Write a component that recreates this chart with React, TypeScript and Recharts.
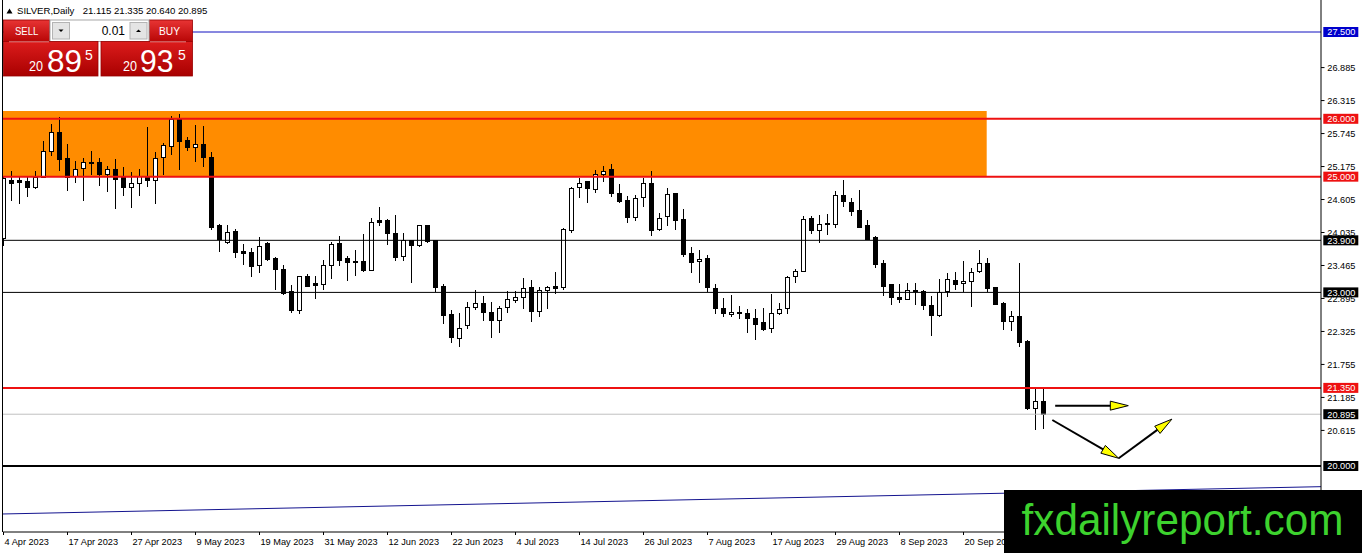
import React from 'react';
import { ComposedChart, Bar, XAxis, YAxis, ReferenceLine, ReferenceArea } from 'recharts';

// ---- OHLC data (SILVER, Daily) ----
const opens = [
  23.93, 24.94, 24.93, 24.91, 24.82, 24.99, 25.43, 25.77, 25.32, 25.01,
  25.14, 25.25, 25.24, 25.03, 25.12, 24.98, 24.82, 24.89, 24.99, 24.93,
  25.33, 25.52, 25.98, 25.63, 25.51, 25.55, 25.33, 24.15, 23.86, 24.05,
  23.70, 23.69, 23.46, 23.84, 23.58, 23.40, 23.02, 22.68, 23.27, 23.15,
  23.14, 23.47, 23.84, 23.58, 23.54, 23.54, 23.38, 24.24, 24.24, 24.02,
  23.62, 23.89, 23.81, 24.15, 23.89, 23.11, 22.61, 22.21, 22.42, 22.74,
  22.81, 22.66, 22.51, 22.74, 22.86, 22.92, 23.09, 22.67, 23.04, 23.10,
  23.09, 24.07, 24.82, 24.91, 24.78, 25.03, 25.12, 24.71, 24.58, 24.30,
  24.64, 24.89, 24.08, 24.31, 24.71, 24.26, 23.68, 23.54, 23.59, 23.07,
  22.73, 22.62, 22.66, 22.64, 22.55, 22.48, 22.38, 22.63, 22.73, 23.27,
  23.36, 24.28, 24.07, 24.17, 24.18, 24.67, 24.56, 24.41, 24.15, 23.95,
  23.50, 23.13, 22.92, 22.88, 23.04, 23.02, 22.78, 22.60, 23.01, 23.21,
  23.16, 23.19, 23.36, 23.50, 23.09, 22.80, 22.50, 22.59, 22.16, 20.99,
  21.115,
];
const highs = [
  25.00, 25.10, 25.00, 25.00, 25.10, 25.62, 25.91, 26.03, 25.56, 25.27,
  25.33, 25.45, 25.33, 25.18, 25.31, 25.17, 25.08, 25.13, 25.85, 25.42,
  25.58, 26.04, 26.08, 25.68, 25.89, 25.88, 25.42, 24.18, 24.17, 24.09,
  23.84, 23.76, 23.95, 23.87, 23.62, 23.47, 23.12, 23.29, 23.31, 23.28,
  23.56, 23.87, 23.97, 23.63, 23.73, 24.01, 24.29, 24.47, 24.27, 24.34,
  24.03, 23.90, 24.17, 24.17, 23.90, 23.15, 22.70, 22.64, 22.84, 23.04,
  22.93, 22.83, 22.77, 23.02, 23.02, 23.25, 23.21, 23.10, 23.11, 23.35,
  24.11, 24.83, 24.97, 24.92, 25.12, 25.18, 25.22, 24.87, 24.67, 24.68,
  24.97, 25.09, 24.38, 24.80, 24.72, 24.44, 23.78, 23.74, 23.65, 23.15,
  22.90, 22.96, 22.77, 22.71, 22.71, 22.73, 22.97, 22.82, 23.28, 23.40,
  24.32, 24.32, 24.34, 24.36, 24.76, 24.95, 24.63, 24.77, 24.25, 23.97,
  23.56, 23.15, 23.14, 23.17, 23.16, 23.05, 22.93, 23.24, 23.34, 23.36,
  23.55, 23.43, 23.73, 23.59, 23.10, 22.84, 22.68, 23.51, 22.17, 21.35,
  21.335,
];
const lows = [
  23.80, 24.58, 24.52, 24.65, 24.78, 24.99, 25.35, 25.10, 24.76, 24.89,
  24.58, 25.03, 24.84, 24.74, 24.44, 24.67, 24.46, 24.67, 24.83, 24.53,
  25.03, 25.37, 25.12, 25.45, 25.26, 25.17, 24.08, 23.69, 23.83, 23.59,
  23.47, 23.27, 23.34, 23.55, 23.04, 22.96, 22.64, 22.63, 23.09, 22.88,
  23.05, 23.23, 23.46, 23.19, 23.29, 23.35, 23.38, 24.14, 23.82, 23.55,
  23.55, 23.17, 23.78, 23.85, 23.01, 22.45, 22.13, 22.06, 22.36, 22.70,
  22.51, 22.22, 22.29, 22.65, 22.82, 22.72, 22.48, 22.57, 22.71, 22.97,
  23.05, 24.03, 24.63, 24.55, 24.71, 24.90, 24.65, 24.54, 24.20, 24.23,
  24.47, 23.97, 24.06, 24.14, 24.07, 23.61, 23.34, 23.16, 23.01, 22.62,
  22.58, 22.58, 22.54, 22.30, 22.18, 22.34, 22.29, 22.61, 22.63, 23.16,
  23.36, 24.01, 23.86, 23.99, 24.12, 24.48, 24.32, 24.11, 23.91, 23.43,
  22.94, 22.79, 22.81, 22.87, 22.78, 22.70, 22.25, 22.57, 22.92, 23.05,
  23.01, 22.75, 23.33, 23.01, 22.78, 22.35, 22.34, 22.06, 20.97, 20.62,
  20.64,
];
const closes = [
  24.97, 24.89, 24.90, 24.81, 24.99, 25.44, 25.77, 25.29, 24.99, 25.13,
  25.24, 25.22, 25.03, 25.12, 24.95, 24.82, 24.89, 25.00, 24.93, 25.32,
  25.53, 25.98, 25.60, 25.51, 25.55, 25.33, 24.13, 23.91, 24.04, 23.69,
  23.68, 23.44, 23.80, 23.56, 23.39, 22.98, 22.68, 23.27, 23.10, 23.12,
  23.47, 23.83, 23.55, 23.52, 23.52, 23.38, 24.21, 24.21, 24.02, 23.60,
  23.89, 23.81, 24.15, 23.88, 23.09, 22.60, 22.22, 22.38, 22.74, 22.81,
  22.65, 22.51, 22.73, 22.87, 22.92, 23.07, 22.67, 23.04, 23.09, 23.07,
  24.08, 24.80, 24.89, 24.79, 25.03, 25.09, 24.71, 24.57, 24.30, 24.63,
  24.89, 24.07, 24.28, 24.70, 24.24, 23.65, 23.51, 23.57, 23.09, 22.73,
  22.63, 22.66, 22.63, 22.55, 22.45, 22.36, 22.64, 22.71, 23.26, 23.36,
  24.26, 24.07, 24.18, 24.19, 24.67, 24.57, 24.40, 24.12, 23.92, 23.49,
  23.11, 22.92, 22.88, 23.04, 23.01, 22.78, 22.60, 23.00, 23.23, 23.13,
  23.19, 23.35, 23.50, 23.06, 22.79, 22.49, 22.59, 22.13, 20.99, 21.12,
  20.895,
];

// ---- axis ticks / labels ----
const dateTickIdx = [0, 8, 16, 24, 32, 40, 48, 56, 64, 72, 80, 88, 96, 104, 112, 120];
const dateLabels = [
  '4 Apr 2023', '17 Apr 2023', '27 Apr 2023', '9 May 2023', '19 May 2023', '31 May 2023',
  '12 Jun 2023', '22 Jun 2023', '4 Jul 2023', '14 Jul 2023', '26 Jul 2023', '7 Aug 2023',
  '17 Aug 2023', '29 Aug 2023', '8 Sep 2023', '20 Sep 2023',
];
const priceTicks = [26.885, 26.315, 25.745, 25.175, 24.605, 24.035, 23.465, 22.895, 22.325, 21.755, 21.185, 20.615];

// ---- horizontal levels ----
const levelPrices = [27.5, 26.0, 25.0, 23.9, 23.0, 21.35, 20.895, 20.0];
const levelLabelBg = ['#0000cc', '#ee1111', '#ee1111', '#000000', '#000000', '#ee1111', '#000000', '#000000'];
const levelLineColor = ['#1010c0', '#ee1111', '#ee1111', '#000000', '#000000', '#ee1111', '#c0c0c0', '#000000'];
const levelLineWidth = [1, 2, 2, 1, 1, 2, 1, 2];

// ---- zone, trendline, arrows (data coordinates: bar index, price) ----
const zoneEndIdx = 122.9;
const zoneTop = 26.135;
const zoneBottom = 25.0;
const trendLine = [{ x: -0.0625, y: 19.171 }, { x: 164.6875, y: 19.643 }];
const arrowSegments = [
  [131.46, 21.043, 140.6, 21.043],
  [131.1, 20.795, 139.4, 20.133],
  [139.4, 20.133, 146.05, 20.81],
];

const bidPrice = 20.895;
const askPrice = 20.935;

const xMin = -0.0625;
const xMax = 164.6875;
const yMax = 28.053;
const yMin = 18.8595;

const rows = opens.map((o, i) => ({
  i,
  open: o,
  high: highs[i],
  low: lows[i],
  close: closes[i],
  range: [lows[i], highs[i]],
}));

const FONT = "'Liberation Sans', Arial, sans-serif";

const Candle = (props: any) => {
  const { x, y, width, height, payload } = props;
  if (x == null || y == null || !payload) return null;
  const yTop = Math.min(y, y + height);
  const yBot = Math.max(y, y + height);
  const { open, close, high, low } = payload;
  const r = high - low;
  const py = (p: number) => (r > 0 ? yTop + ((high - p) / r) * (yBot - yTop) : yTop);
  const cx = Math.floor(x + width / 2) + 0.5;
  const bull = close >= open;
  const bt = py(Math.max(open, close));
  const bb = py(Math.min(open, close));
  return (
    <g shapeRendering="crispEdges">
      <line x1={cx} x2={cx} y1={yTop} y2={yBot} stroke="#000" strokeWidth={1} />
      <rect x={cx - 2} y={bt} width={4} height={Math.max(bb - bt, 0)} fill={bull ? '#ffffff' : '#000000'} stroke="#000" strokeWidth={1} />
    </g>
  );
};

const Arrow = (props: any) => {
  const { x1, y1, x2, y2 } = props;
  if ([x1, y1, x2, y2].some((v) => v == null || isNaN(v))) return null;
  const dx = x2 - x1;
  const dy = y2 - y1;
  const len = Math.hypot(dx, dy) || 1;
  const ux = dx / len;
  const uy = dy / len;
  const hl = 18;
  const hw = 4.5;
  const bx = x2 - ux * hl;
  const by = y2 - uy * hl;
  const pts = `${x2},${y2} ${bx - uy * hw},${by + ux * hw} ${bx + uy * hw},${by - ux * hw}`;
  return (
    <g>
      <line x1={x1} y1={y1} x2={bx + ux * 2} y2={by + uy * 2} stroke="#000" strokeWidth={2} />
      <polygon points={pts} fill="#ffff00" stroke="#000" strokeWidth={1} />
    </g>
  );
};

const YTick = (props: any) => {
  const { x, y, payload } = props;
  const v = payload.value;
  const li = levelPrices.indexOf(v);
  if (li >= 0) {
    return (
      <g>
        <rect x={x + 2.3} y={y - 5} width={35} height={10} fill={levelLabelBg[li]} />
        <text x={x + 6.3} y={y + 3.4} fill="#ffffff" fontSize={9.2} fontFamily={FONT}>
          {v.toFixed(3)}
        </text>
      </g>
    );
  }
  return (
    <g>
      <line x1={x} x2={x + 3.5} y1={y} y2={y} stroke="#000" strokeWidth={1} />
      <text x={x + 6.3} y={y + 3.4} fill="#000" fontSize={9.2} fontFamily={FONT}>
        {v.toFixed(3)}
      </text>
    </g>
  );
};

const XTick = (props: any) => {
  const { x, y, payload } = props;
  const k = dateTickIdx.indexOf(payload.value);
  return (
    <g>
      <line x1={x} x2={x} y1={y} y2={y + 3} stroke="#000" strokeWidth={1} />
      <text x={x + 1} y={y + 13} fill="#000" fontSize={9.2} fontFamily={FONT}>
        {k >= 0 ? dateLabels[k] : ''}
      </text>
    </g>
  );
};

const splitPrice = (p: number) => {
  const s = p.toFixed(3);
  return [s.slice(0, 2), s.slice(3, 5), s.slice(5)];
};

const Overlay = () => {
  const last = opens.length - 1;
  const ohlc = [opens[last], highs[last], lows[last], closes[last]].map((v) => v.toFixed(3)).join(' ');
  const bid = splitPrice(bidPrice);
  const ask = splitPrice(askPrice);
  return (
    <svg width={1362} height={553} style={{ position: 'absolute', left: 0, top: 0, pointerEvents: 'none' }}>
      <defs>
        <linearGradient id="btnRed" x1="0" y1="0" x2="0" y2="1">
          <stop offset="0" stopColor="#e83434" />
          <stop offset="1" stopColor="#b80606" />
        </linearGradient>
        <linearGradient id="boxRed" x1="0" y1="0" x2="0" y2="1">
          <stop offset="0" stopColor="#dc1c1c" />
          <stop offset="1" stopColor="#a80000" />
        </linearGradient>
      </defs>
      {/* left chart frame */}
      <line x1={2.5} y1={0} x2={2.5} y2={532} stroke="#000" strokeWidth={1} />
      {/* header */}
      <polygon points="6.5,13.5 9.5,8.5 12.5,13.5" fill="#000" />
      <text x={17} y={13.5} fontSize={9.6} fontFamily={FONT} fill="#000">SILVER,Daily</text>
      <text x={82.7} y={13.5} fontSize={9.6} fontFamily={FONT} fill="#000">{ohlc}</text>
      {/* trade panel */}
      <rect x={3.5} y={20} width={46} height={21.5} fill="url(#btnRed)" stroke="#9a0000" strokeWidth={0.8} />
      <text x={15} y={35} fontSize={11.5} fontFamily={FONT} fill="#fff" textLength={23.3} lengthAdjust="spacingAndGlyphs">SELL</text>
      <rect x={149.5} y={20} width={43} height={21.5} fill="url(#btnRed)" stroke="#9a0000" strokeWidth={0.8} />
      <text x={159} y={35} fontSize={11.5} fontFamily={FONT} fill="#fff" textLength={21} lengthAdjust="spacingAndGlyphs">BUY</text>
      <rect x={50} y={20} width={99} height={21.5} fill="#ffffff" stroke="#a8a8a8" strokeWidth={1} />
      <rect x={52.5} y={22.5} width={17} height={16.5} fill="#e4e4e4" stroke="#b4b4b4" strokeWidth={1} />
      <polygon points="58.5,29.5 63.5,29.5 61,32" fill="#000" />
      <rect x={130} y={22.5} width={17} height={16.5} fill="#e4e4e4" stroke="#b4b4b4" strokeWidth={1} />
      <polygon points="136,32 141,32 138.5,29.5" fill="#000" />
      <text x={125} y={35} textAnchor="end" fontSize={12} fontFamily={FONT} fill="#000">0.01</text>
      <rect x={3.5} y={41.5} width={94.5} height={34.5} fill="url(#boxRed)" stroke="#9a0000" strokeWidth={0.8} />
      <line x1={9} y1={41.8} x2={49} y2={41.8} stroke="#f0a0a0" strokeWidth={0.8} />
      <rect x={101} y={41.5} width={91.5} height={34.5} fill="url(#boxRed)" stroke="#9a0000" strokeWidth={0.8} />
      <line x1={150} y1={41.8} x2={186} y2={41.8} stroke="#f0a0a0" strokeWidth={0.8} />
      <text x={29} y={70.7} fontSize={15} fontFamily={FONT} fill="#fff" textLength={14} lengthAdjust="spacingAndGlyphs">{bid[0]}</text>
      <text x={47} y={71.7} fontSize={31} fontFamily={FONT} fill="#fff" textLength={35} lengthAdjust="spacingAndGlyphs">{bid[1]}</text>
      <text x={85} y={60} fontSize={14} fontFamily={FONT} fill="#fff">{bid[2]}</text>
      <text x={123} y={70.7} fontSize={15} fontFamily={FONT} fill="#fff" textLength={14} lengthAdjust="spacingAndGlyphs">{ask[0]}</text>
      <text x={140} y={71.7} fontSize={31} fontFamily={FONT} fill="#fff" textLength={33.5} lengthAdjust="spacingAndGlyphs">{ask[1]}</text>
      <text x={178} y={60} fontSize={14} fontFamily={FONT} fill="#fff">{ask[2]}</text>
      {/* watermark */}
      <rect x={1004} y={490} width={358} height={63} fill="#000" />
      <text x={1021.5} y={535} fontSize={44} fontFamily={FONT} fill="#3dd22e" textLength={322} lengthAdjust="spacingAndGlyphs">fxdailyreport.com</text>
    </svg>
  );
};

export default function App() {
  return (
    <div style={{ position: 'absolute', left: 0, top: 0, width: 1362, height: 553, background: '#fff', overflow: 'hidden' }}>
      <ComposedChart width={1362} height={553} data={rows} margin={{ top: 0, right: 0, bottom: 0, left: 3 }}>
        <XAxis
          type="number"
          dataKey="i"
          domain={[xMin, xMax]}
          allowDataOverflow
          ticks={dateTickIdx}
          interval={0}
          tick={<XTick />}
          tickLine={false}
          tickSize={0}
          tickMargin={0}
          height={21}
          axisLine={{ stroke: '#000' }}
        />
        <YAxis
          orientation="right"
          type="number"
          domain={[yMin, yMax]}
          allowDataOverflow
          ticks={[...priceTicks, ...levelPrices]}
          interval={0}
          tick={<YTick />}
          tickLine={false}
          tickSize={0}
          tickMargin={0}
          width={41}
          axisLine={{ stroke: '#000' }}
        />
        <ReferenceArea
          x1={xMin}
          x2={zoneEndIdx}
          y1={zoneBottom}
          y2={zoneTop}
          fill="#ff8c00"
          fillOpacity={1}
          stroke="none"
          ifOverflow="visible"
        />
        <ReferenceLine segment={trendLine} stroke="#14148f" strokeWidth={1} ifOverflow="visible" />
        <Bar dataKey="range" barSize={5} shape={<Candle />} isAnimationActive={false} />
        {levelPrices.map((p, k) => (
          <ReferenceLine
            key={'lvl' + k}
            y={p}
            stroke={levelLineColor[k]}
            strokeWidth={levelLineWidth[k]}
            ifOverflow="visible"
          />
        ))}
        {arrowSegments.map((s, k) => (
          <ReferenceLine
            key={'arr' + k}
            segment={[{ x: s[0], y: s[1] }, { x: s[2], y: s[3] }]}
            shape={Arrow}
            ifOverflow="visible"
          />
        ))}
      </ComposedChart>
      <Overlay />
    </div>
  );
}
